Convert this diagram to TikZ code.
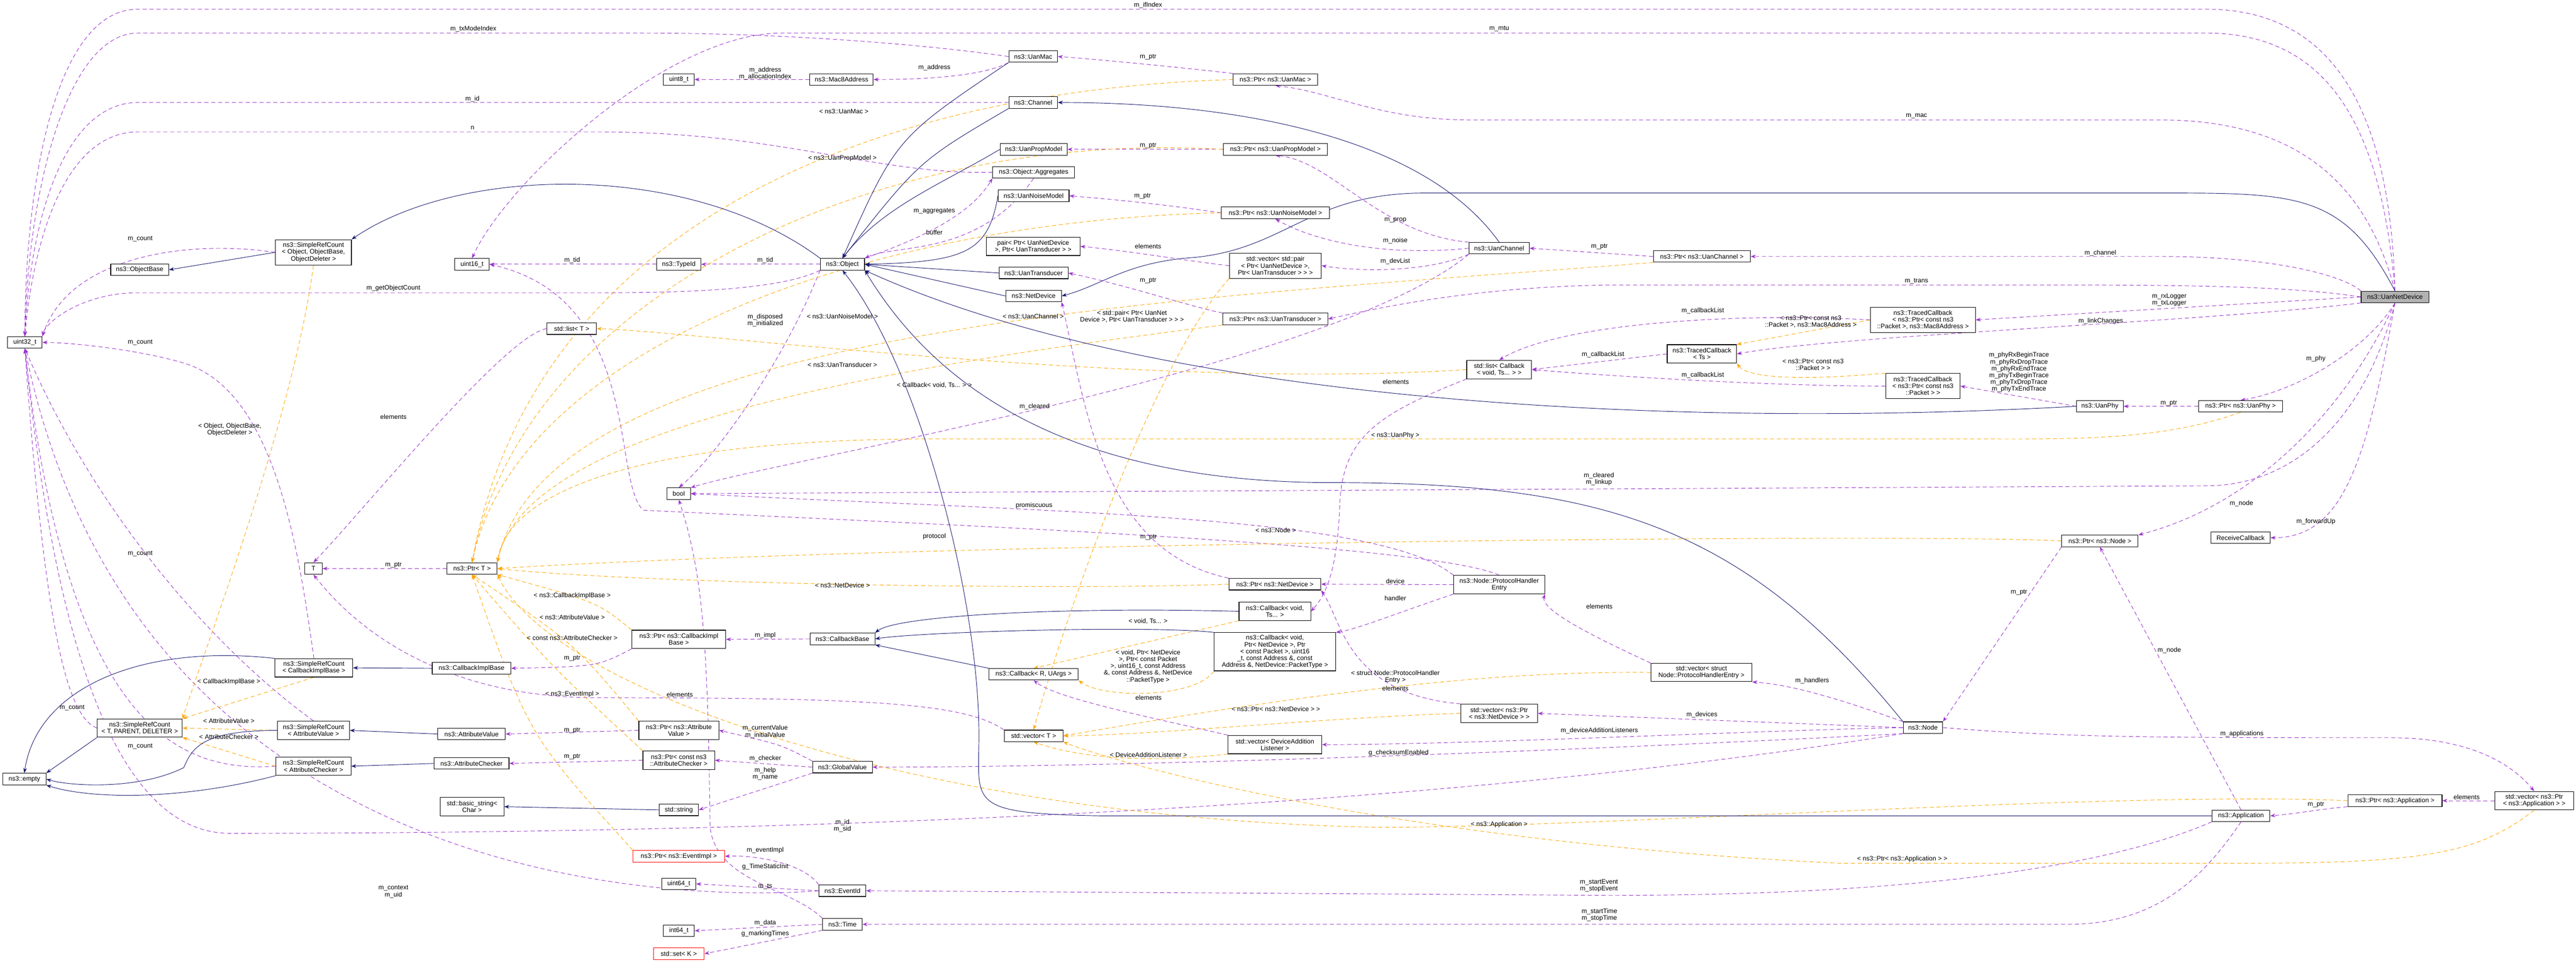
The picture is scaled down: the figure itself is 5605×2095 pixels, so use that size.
\documentclass[tikz,border=0pt]{standalone}
\usepackage{fontspec}
\setmainfont{Liberation Sans}
\usetikzlibrary{arrows.meta}
\definecolor{pu}{HTML}{9A32CD}
\definecolor{og}{HTML}{FFA500}
\definecolor{nv}{HTML}{191970}
\pgfdeclarelayer{edges}
\pgfsetlayers{edges,main}
\tikzset{
 box/.style={draw=black,line width=0.35pt,fill=white,inner sep=0.5pt,minimum height=0.25cm,align=center,font=\fontsize{4}{4.2}\selectfont},
 lbl/.style={inner sep=0pt,align=center,font=\fontsize{4}{4.2}\selectfont},
 use/.style={pu,dash pattern=on 0.09cm off 0.06cm,line width=0.3pt,-{Stealth[length=0.11cm,width=0.08cm]}},
 tmpl/.style={og,dash pattern=on 0.09cm off 0.06cm,line width=0.3pt,-{Stealth[length=0.11cm,width=0.08cm]}},
 inh/.style={nv,line width=0.3pt,-{Stealth[length=0.11cm,width=0.08cm]}}
}
\newcommand\nd[6][]{\node[box,minimum width=#5*0.01cm,#1] (#2) at (#3,#4) {#6};}
\newcommand\lb[4]{\node[lbl] (#1) at (#2,#3) {#4};}
\begin{document}
\begin{tikzpicture}[x=0.01cm,y=-0.01cm]
\useasboundingbox (0,0) rectangle (5605,2095);
% nodes
\nd{u32}{54}{745}{75}{uint32\_t}
\nd{obase}{304}{587}{126}{ns3::ObjectBase}
\nd[minimum height=0.55cm]{srco}{682}{549}{165}{ns3::SimpleRefCount\\< Object, ObjectBase,\\ObjectDeleter >}
\nd{u16}{1027}{575}{75}{uint16\_t}
\nd{listT}{1244}{715}{108}{std::list< T >}
\nd{uanmac}{2248}{123}{106}{ns3::UanMac}
\nd{u8}{1477}{173}{67}{uint8\_t}
\nd{mac8}{1831}{173}{138}{ns3::Mac8Address}
\nd{chan}{2248}{223}{106}{ns3::Channel}
\nd{prop}{2249}{325}{146}{ns3::UanPropModel}
\nd{aggr}{2249}{375}{178}{ns3::Object::Aggregates}
\nd{noise}{2249}{426}{154}{ns3::UanNoiseModel}
\nd[minimum height=0.4cm]{pair}{2248}{536}{204}{pair< Ptr< UanNetDevice\\ >, Ptr< UanTransducer > >}
\nd{trans}{2249}{594}{150}{ns3::UanTransducer}
\nd{netdev}{2249}{644}{121}{ns3::NetDevice}
\nd{obj}{1833}{575}{96}{ns3::Object}
\nd{typeid}{1477}{575}{96}{ns3::TypeId}
\nd{pmac}{2775}{173}{183}{ns3::Ptr< ns3::UanMac >}
\nd{pprop}{2775}{325}{227}{ns3::Ptr< ns3::UanPropModel >}
\nd{pnoise}{2775}{463}{235}{ns3::Ptr< ns3::UanNoiseModel >}
\nd[minimum height=0.55cm]{vpair}{2775}{578}{200}{std::vector< std::pair\\< Ptr< UanNetDevice >,\\ Ptr< UanTransducer > > >}
\nd{ptrans}{2775}{694}{228}{ns3::Ptr< ns3::UanTransducer >}
\nd{uchan}{3262}{540}{131}{ns3::UanChannel}
\nd{pchan}{3703}{558}{211}{ns3::Ptr< ns3::UanChannel >}
\nd[minimum height=0.4cm]{tcts}{3703}{770}{151}{ns3::TracedCallback\\< Ts >}
\nd[minimum height=0.4cm]{lcb}{3262}{804}{141}{std::list< Callback\\< void, Ts... > >}
\nd[minimum height=0.55cm]{tcmac}{4184}{696}{228}{ns3::TracedCallback\\< ns3::Ptr< const ns3\\::Packet >, ns3::Mac8Address >}
\nd[minimum height=0.55cm]{tcpkt}{4184}{840}{162}{ns3::TracedCallback\\< ns3::Ptr< const ns3\\::Packet > >}
\nd[fill=black!30]{und}{5211}{646}{147}{ns3::UanNetDevice}
\nd{uphy}{4569}{884}{102}{ns3::UanPhy}
\nd{pphy}{4875}{884}{183}{ns3::Ptr< ns3::UanPhy >}
\nd{T}{682}{1237}{38}{T}
\nd{ptrT}{1027}{1237}{109}{ns3::Ptr< T >}
\nd[minimum height=0.4cm]{srccb}{683}{1453}{169}{ns3::SimpleRefCount\\< CallbackImplBase >}
\nd{cbimpl}{1026}{1454}{171}{ns3::CallbackImplBase}
\nd[minimum height=0.4cm]{srctpd}{304}{1584}{185}{ns3::SimpleRefCount\\< T, PARENT, DELETER >}
\nd[minimum height=0.4cm]{srcav}{682}{1589}{157}{ns3::SimpleRefCount\\< AttributeValue >}
\nd{av}{1026}{1597}{147}{ns3::AttributeValue}
\nd[minimum height=0.4cm]{srcac}{682}{1667}{163}{ns3::SimpleRefCount\\< AttributeChecker >}
\nd{ac}{1026}{1661}{163}{ns3::AttributeChecker}
\nd{empty}{53}{1695}{94}{ns3::empty}
\nd[minimum height=0.4cm]{bstr}{1027}{1755}{139}{std::basic\_string<\\ Char >}
\nd{bool}{1477}{1074}{51}{bool}
\nd[minimum height=0.4cm]{pcbimpl}{1477}{1391}{204}{ns3::Ptr< ns3::CallbackImpl\\Base >}
\nd{cbbase}{1833}{1390}{141}{ns3::CallbackBase}
\nd[minimum height=0.4cm]{cbvoid}{2774}{1330}{156}{ns3::Callback< void,\\ Ts... >}
\nd[minimum height=0.83cm]{cbnd}{2774}{1418}{264}{ns3::Callback< void,\\ Ptr< NetDevice >, Ptr\\< const Packet >, uint16\\\_t, const Address \&, const\\ Address \&, NetDevice::PacketType >}
\nd{cbr}{2249}{1467}{194}{ns3::Callback< R, UArgs >}
\nd{pnd}{2774}{1271}{200}{ns3::Ptr< ns3::NetDevice >}
\nd{vecT}{2249}{1601}{128}{std::vector< T >}
\nd[minimum height=0.4cm]{vdal}{2774}{1620}{204}{std::vector< DeviceAddition\\Listener >}
\nd{gv}{1833}{1669}{130}{ns3::GlobalValue}
\nd[minimum height=0.4cm]{pav}{1477}{1589}{174}{ns3::Ptr< ns3::Attribute\\Value >}
\nd[minimum height=0.4cm]{pac}{1477}{1654}{156}{ns3::Ptr< const ns3\\::AttributeChecker >}
\nd{str}{1477}{1762}{86}{std::string}
\nd[draw=red]{pev}{1477}{1863}{199}{ns3::Ptr< ns3::EventImpl >}
\nd{u64}{1477}{1923}{74}{uint64\_t}
\nd{evid}{1833}{1938}{102}{ns3::EventId}
\nd{i64}{1477}{2025}{68}{int64\_t}
\nd{time}{1833}{2011}{86}{ns3::Time}
\nd[draw=red]{setK}{1477}{2075}{110}{std::set< K >}
\nd[minimum height=0.4cm]{phe}{3262}{1272}{198}{ns3::Node::ProtocolHandler\\Entry}
\nd[minimum height=0.4cm]{vphe}{3702}{1463}{220}{std::vector< struct\\ Node::ProtocolHandlerEntry >}
\nd[minimum height=0.4cm]{vpnd}{3262}{1552}{167}{std::vector< ns3::Ptr\\< ns3::NetDevice > >}
\nd{node}{4184}{1583}{86}{ns3::Node}
\nd{pnode}{4569}{1177}{166}{ns3::Ptr< ns3::Node >}
\nd{rcb}{4875}{1170}{129}{ReceiveCallback}
\nd{app}{4876}{1775}{126}{ns3::Application}
\nd{papp}{5211}{1742}{205}{ns3::Ptr< ns3::Application >}
\nd[minimum height=0.4cm]{vpapp}{5514}{1742}{172}{std::vector< ns3::Ptr\\< ns3::Application > >}
\begin{pgfonlayer}{edges}
% purple usage edges
\draw[use] (und.north) .. controls (5200,200) and (5050,20) .. (4800,20) -- (300,20) .. controls (120,20) and (55,400) .. (u32.north);
\draw[use] (und.north) .. controls (5180,250) and (5050,72) .. (4800,72) -- (1700,72) .. controls (1450,72) and (1100,400) .. (u16.north);
\draw[use] (uanmac.west) .. controls (2000,95) and (1700,72) .. (1400,72) -- (300,72) .. controls (150,72) and (62,400) .. (u32.north);
\draw[use] (chan.west) -- (300,223) .. controls (150,223) and (68,450) .. (u32.north);
\draw[use] (aggr.west) .. controls (1900,380) and (1700,287) .. (1300,287) -- (300,287) .. controls (150,287) and (75,500) .. (u32.north);
\draw[use] (obj.south west) .. controls (1700,630) and (1500,637) .. (1300,637) -- (300,637) .. controls (180,637) and (100,700) .. (u32.north east);
\draw[use] (srco.west) .. controls (400,520) and (150,560) .. (u32.north east);
\draw[use] (obj.west) -- (typeid.east);
\draw[use] (typeid.west) -- (u16.east);
\draw[use] (phe.north) .. controls (3100,1180) and (2000,1140) .. (1400,1110) .. controls (1330,1050) and (1400,650) .. (u16.east);
\draw[use] (srccb.north) .. controls (650,1200) and (600,850) .. (400,790) .. controls (300,760) and (150,745) .. (u32.east);
\draw[use] (srcav.north) .. controls (450,1400) and (200,1100) .. (u32.south);
\draw[use] (srctpd.west) .. controls (150,1560) and (100,1400) .. (u32.south);
\draw[use] (srcac.west) .. controls (400,1680) and (150,1600) .. (u32.south);
\draw[use] (evid.west) .. controls (1500,1960) and (300,1950) .. (u32.south);
\draw[use] (node.south west) .. controls (3000,1780) and (1500,1813) .. (500,1813) .. controls (200,1813) and (100,1200) .. (u32.south);
\draw[use] (mac8.west) -- (u8.east);
\draw[use] (uanmac.south west) .. controls (2150,160) and (2050,173) .. (mac8.east);
\draw[use] (pmac.north west) .. controls (2600,150) and (2400,130) .. (uanmac.east);
\draw[use] (und.north) .. controls (5150,400) and (5000,261) .. (4700,261) -- (3200,261) .. controls (3000,261) and (2900,200) .. (pmac.south);
\draw[use] (pprop.west) -- (prop.east);
\draw[use] (pnoise.west) .. controls (2600,455) and (2500,440) .. (noise.east);
\draw[use] (vpair.west) .. controls (2600,570) and (2450,545) .. (pair.east);
\draw[use] (ptrans.north west) .. controls (2600,670) and (2450,620) .. (trans.east);
\draw[use] (obj.north east) .. controls (2000,520) and (2110,470) .. (aggr.south west);
\draw[use] (aggr.south) .. controls (2130,560) and (1950,530) .. (obj.north east);
\draw[use] (uchan.north west) .. controls (3000,510) and (2900,350) .. (pprop.south);
\draw[use] (uchan.west) .. controls (3000,560) and (2850,520) .. (pnoise.south);
\draw[use] (uchan.south west) .. controls (3100,595) and (2950,590) .. (vpair.east);
\draw[use] (pchan.west) -- (uchan.east);
\draw[use] (und.north west) .. controls (5100,600) and (4950,558) .. (4700,558) -- (pchan.east);
\draw[use] (und.west) .. controls (5000,625) and (4800,620) .. (4500,620) -- (3500,620) .. controls (3200,625) and (3000,670) .. (ptrans.east);
\draw[use] (und.west) -- (tcmac.east);
\draw[use] (und.south west) .. controls (4800,700) and (4000,730) .. (tcts.east);
\draw[use] (tcmac.west) .. controls (3800,680) and (3400,700) .. (lcb.north);
\draw[use] (tcts.west) -- (lcb.east);
\draw[use] (tcpkt.west) .. controls (3800,840) and (3400,810) .. (lcb.east);
\draw[use] (uphy.west) -- (tcpkt.east);
\draw[use] (pphy.west) -- (uphy.east);
\draw[use] (und.south) .. controls (5150,760) and (5000,850) .. (pphy.north);
\draw[use] (und.south) .. controls (5150,900) and (5000,1057) .. (4800,1057) -- (bool.east);
\draw[use] (lcb.south west) .. controls (3000,900) and (2920,950) .. (2915,1100) .. controls (2910,1250) and (2880,1300) .. (cbvoid.east);
\draw[use] (listT.west) .. controls (1100,730) and (800,1100) .. (T.north);
\draw[use] (ptrT.west) -- (T.east);
\draw[use] (obj.south west) .. controls (1700,800) and (1550,1000) .. (bool.north);
\draw[use] (uchan.south west) .. controls (2900,800) and (1700,1000) .. (bool.north east);
\draw[use] (phe.north west) .. controls (3000,1120) and (2300,1115) .. (bool.east);
\draw[use] (pnode.south west) -- (node.north east);
\draw[use] (und.south) .. controls (5100,900) and (4900,1100) .. (pnode.north east);
\draw[use] (app.north) -- (pnode.south);
\draw[use] (und.south) .. controls (5150,1000) and (5100,1170) .. (rcb.east);
\draw[use] (pnd.north west) .. controls (2400,1200) and (2365,900) .. (netdev.south east);
\draw[use] (phe.west) -- (pnd.east);
\draw[use] (phe.south west) .. controls (3050,1330) and (2950,1370) .. (cbnd.north east);
\draw[use] (vphe.north west) .. controls (3500,1400) and (3350,1330) .. (phe.south east);
\draw[use] (node.north west) .. controls (4000,1520) and (3900,1490) .. (vphe.south east);
\draw[use] (vpnd.north west) .. controls (2930,1510) and (2920,1350) .. (pnd.south east);
\draw[use] (node.west) -- (vpnd.east);
\draw[use] (node.west) .. controls (3800,1590) and (3200,1620) .. (vdal.east);
\draw[use] (node.south west) .. controls (3500,1630) and (2500,1669) .. (gv.east);
\draw[use] (vdal.north west) .. controls (2500,1560) and (2300,1520) .. (cbr.south);
\draw[use] (vpapp.west) -- (papp.east);
\draw[use] (papp.south west) .. controls (5050,1760) and (5000,1770) .. (app.east);
\draw[use] (node.east) .. controls (4500,1605) and (4700,1605) .. (5200,1605) .. controls (5400,1605) and (5480,1680) .. (vpapp.north);
\draw[use] (app.south west) .. controls (4600,1880) and (4200,1948) .. (3500,1948) -- (evid.east);
\draw[use] (app.south) .. controls (4800,1900) and (4700,2011) .. (4500,2011) -- (time.east);
\draw[use] (cbbase.west) -- (pcbimpl.east);
\draw[use] (pcbimpl.south west) .. controls (1300,1450) .. (cbimpl.east);
\draw[use] (pav.west) -- (av.east);
\draw[use] (pac.west) -- (ac.east);
\draw[use] (gv.north west) .. controls (1700,1620) .. (pav.east);
\draw[use] (gv.west) -- (pac.east);
\draw[use] (gv.south west) -- (str.east);
\draw[use] (evid.north west) .. controls (1750,1880) and (1650,1860) .. (pev.east);
\draw[use] (time.north west) .. controls (1720,1930) and (1560,1920) .. (1545,1800) .. controls (1540,1400) and (1530,1250) .. (bool.south);
\draw[use] (evid.west) -- (u64.east);
\draw[use] (time.west) -- (i64.east);
\draw[use] (time.south west) -- (setK.east);
\draw[use] (vecT.north west) .. controls (2100,1530) and (1900,1518) .. (1300,1518) .. controls (1000,1518) and (800,1400) .. (T.south);
% template instances
\draw[tmpl] (srco.south) .. controls (640,900) and (450,1400) .. (srctpd.north east);
\draw[tmpl] (srccb.south) -- (srctpd.north east);
\draw[tmpl] (srcav.west) -- (srctpd.east);
\draw[tmpl] (srcac.west) -- (srctpd.south east);
\draw[tmpl] (pmac.west) .. controls (1800,200) and (1150,550) .. (ptrT.north);
\draw[tmpl] (pprop.west) .. controls (1900,280) and (1140,650) .. (ptrT.north);
\draw[tmpl] (pnoise.west) .. controls (1900,480) and (1130,750) .. (ptrT.north);
\draw[tmpl] (pchan.south west) .. controls (2600,650) and (1200,700) .. (ptrT.north east);
\draw[tmpl] (ptrans.south west) .. controls (2100,780) and (1150,900) .. (ptrT.north east);
\draw[tmpl] (lcb.west) .. controls (2500,850) and (1500,720) .. (listT.east);
\draw[tmpl] (pphy.south) .. controls (4700,960) and (4500,955) .. (4300,955) -- (2000,955) .. controls (1300,960) and (1100,1100) .. (ptrT.north east);
\draw[tmpl] (pnode.west) .. controls (4200,1160) and (2000,1180) .. (ptrT.east);
\draw[tmpl] (pnd.west) .. controls (2300,1285) and (1400,1270) .. (ptrT.east);
\draw[tmpl] (pcbimpl.north west) .. controls (1300,1310) .. (ptrT.south east);
\draw[tmpl] (pav.north west) .. controls (1250,1400) .. (ptrT.south);
\draw[tmpl] (pac.north west) .. controls (1200,1450) .. (ptrT.south);
\draw[tmpl] (pev.north west) .. controls (1150,1600) .. (ptrT.south);
\draw[tmpl] (papp.west) .. controls (4600,1720) and (3500,1800) .. (3000,1800) .. controls (2000,1780) and (1200,1500) .. (ptrT.south east);
\draw[tmpl] (vpapp.south) .. controls (5400,1850) and (5300,1878) .. (4900,1878) -- (4000,1878) .. controls (3000,1830) and (2400,1650) .. (vecT.south east);
\draw[tmpl] (vpair.south west) .. controls (2500,800) and (2300,1400) .. (vecT.north);
\draw[tmpl] (cbvoid.south west) -- (cbr.north);
\draw[tmpl] (cbnd.south west) .. controls (2600,1520) and (2400,1520) .. (cbr.south east);
\draw[tmpl] (vphe.west) .. controls (3300,1460) and (2950,1490) .. (vecT.east);
\draw[tmpl] (vpnd.west) .. controls (2900,1560) and (2500,1600) .. (vecT.east);
\draw[tmpl] (vdal.south west) .. controls (2500,1660) and (2350,1650) .. (vecT.south);
\draw[tmpl] (tcmac.west) -- (tcts.north east);
\draw[tmpl] (tcpkt.north west) .. controls (3900,830) and (3800,820) .. (tcts.south east);
% inheritance
\draw[inh] (srco.west) -- (obase.east);
\draw[inh] (obj.north west) .. controls (1500,350) and (1000,360) .. (srco.north east);
\draw[inh] (uanmac.south west) .. controls (1950,300) .. (obj.north);
\draw[inh] (chan.south west) .. controls (2000,350) .. (obj.north);
\draw[inh] (prop.west) .. controls (2050,400) and (1920,450) .. (obj.north);
\draw[inh] (noise.west) .. controls (2150,550) and (2100,570) .. (obj.east);
\draw[inh] (trans.west) -- (obj.east);
\draw[inh] (netdev.west) -- (obj.east);
\draw[inh] (uchan.north) .. controls (3100,300) and (2700,223) .. (chan.east);
\draw[inh] (und.north) .. controls (5100,420) and (5000,420) .. (4700,420) -- (3100,420) .. controls (2850,420) and (2800,540) .. (2600,560) .. controls (2450,570) and (2400,620) .. (netdev.east);
\draw[inh] (uphy.west) .. controls (3600,935) and (2500,870) .. (obj.south east);
\draw[inh] (node.north west) .. controls (3800,1150) and (3500,1050) .. (2900,1050) .. controls (2500,1050) and (2100,950) .. (obj.south east);
\draw[inh] (app.west) -- (2400,1775) .. controls (2100,1770) and (2130,1750) .. (2130,1600) .. controls (2130,1300) and (2000,800) .. (obj.south);
\draw[inh] (srctpd.south west) -- (empty.north east);
\draw[inh] (srccb.north west) .. controls (300,1400) and (80,1500) .. (empty.north);
\draw[inh] (srcav.west) .. controls (450,1590) and (420,1620) .. (400,1670) .. controls (300,1720) and (150,1710) .. (empty.east);
\draw[inh] (srcac.south west) .. controls (400,1740) and (200,1740) .. (empty.south east);
\draw[inh] (cbimpl.west) -- (srccb.east);
\draw[inh] (av.west) -- (srcav.east);
\draw[inh] (ac.west) -- (srcac.east);
\draw[inh] (str.west) -- (bstr.east);
\draw[inh] (cbr.north west) -- (cbbase.south east);
\draw[inh] (cbvoid.west) .. controls (2300,1320) and (1950,1340) .. (cbbase.north east);
\draw[inh] (cbnd.north west) .. controls (2500,1360) and (2000,1375) .. (cbbase.east);
\end{pgfonlayer}
% labels
\lb{a1}{2498}{11}{m\_ifIndex}
\lb{a2}{1030}{63}{m\_txModeIndex}
\lb{a3}{3262}{63}{m\_mtu}
\lb{a4}{1028}{215}{m\_id}
\lb{a5}{1028}{278}{n}
\lb{a6}{305}{520}{m\_count}
\lb{a7}{856}{627}{m\_getObjectCount}
\lb{a8}{1245}{566}{m\_tid}
\lb{a9}{1665}{566}{m\_tid}
\lb{a10}{157}{1540}{m\_count}
\lb{a11}{305}{745}{m\_count}
\lb{a12}{305}{1205}{m\_count}
\lb{a13}{305}{1624}{m\_count}
\lb{a14}{856}{1940}{m\_context\\m\_uid}
\lb{a15}{1833}{1797}{m\_id\\m\_sid}
\lb{a16}{1665}{160}{m\_address\\m\_allocationIndex}
\lb{a17}{2033}{147}{m\_address}
\lb{a18}{2498}{124}{m\_ptr}
\lb{a19}{4170}{253}{m\_mac}
\lb{a20}{2498}{317}{m\_ptr}
\lb{a21}{2486}{427}{m\_ptr}
\lb{a22}{2498}{536}{elements}
\lb{a23}{2498}{611}{m\_ptr}
\lb{a24}{2033}{459}{m\_aggregates}
\lb{a25}{2033}{506}{buffer}
\lb{a26}{3036}{479}{m\_prop}
\lb{a27}{3036}{524}{m\_noise}
\lb{a28}{3036}{569}{m\_devList}
\lb{a29}{3480}{537}{m\_ptr}
\lb{a30}{4570}{551}{m\_channel}
\lb{a31}{4170}{612}{m\_trans}
\lb{a32}{4720}{652}{m\_rxLogger\\m\_txLogger}
\lb{a33}{4571}{699}{m\_linkChanges}
\lb{a34}{3705}{676}{m\_callbackList}
\lb{a35}{3488}{772}{m\_callbackList}
\lb{a36}{3705}{816}{m\_callbackList}
\lb{a37}{3940}{700}{< ns3::Ptr< const ns3\\::Packet >, ns3::Mac8Address >}
\lb{a38}{3945}{793}{< ns3::Ptr< const ns3\\::Packet > >}
\lb{a39}{4393}{810}{m\_phyRxBeginTrace\\m\_phyRxDropTrace\\m\_phyRxEndTrace\\m\_phyTxBeginTrace\\m\_phyTxDropTrace\\m\_phyTxEndTrace}
\lb{a40}{4719}{877}{m\_ptr}
\lb{a41}{5039}{780}{m\_phy}
\lb{a42}{3036}{947}{< ns3::UanPhy >}
\lb{a43}{3479}{1042}{m\_cleared\\m\_linkup}
\lb{a44}{3037}{831}{elements}
\lb{a45}{2033}{838}{< Callback< void, Ts... > >}
\lb{a46}{856}{907}{elements}
\lb{a47}{856}{1229}{m\_ptr}
\lb{a48}{1836}{242}{< ns3::UanMac >}
\lb{a49}{1833}{344}{< ns3::UanPropModel >}
\lb{a50}{1833}{688}{< ns3::UanNoiseModel >}
\lb{a51}{2248}{688}{< ns3::UanChannel >}
\lb{a52}{1833}{794}{< ns3::UanTransducer >}
\lb{a53}{2776}{1154}{< ns3::Node >}
\lb{a54}{1833}{1273}{< ns3::NetDevice >}
\lb{a55}{1245}{1296}{< ns3::CallbackImplBase >}
\lb{a56}{1245}{1343}{< ns3::AttributeValue >}
\lb{a57}{1245}{1388}{< const ns3::AttributeChecker >}
\lb{a58}{1245}{1510}{< ns3::EventImpl >}
\lb{a59}{2463}{689}{< std::pair< Ptr< UanNet\\Device >, Ptr< UanTransducer > > >}
\lb{a60}{1665}{697}{m\_disposed\\m\_initialized}
\lb{a61}{2251}{885}{m\_cleared}
\lb{a62}{2250}{1100}{promiscuous}
\lb{a63}{2033}{1167}{protocol}
\lb{a64}{4393}{1289}{m\_ptr}
\lb{a65}{4877}{1096}{m\_node}
\lb{a66}{4720}{1415}{m\_node}
\lb{a67}{5039}{1135}{m\_forwardUp}
\lb{a68}{2499}{1169}{m\_ptr}
\lb{a69}{3036}{1264}{device}
\lb{a70}{3036}{1302}{handler}
\lb{a71}{3480}{1319}{elements}
\lb{a72}{3943}{1481}{m\_handlers}
\lb{a73}{3036}{1498}{elements}
\lb{a74}{3703}{1555}{m\_devices}
\lb{a75}{3480}{1590}{m\_deviceAdditionListeners}
\lb{a76}{3043}{1638}{g\_checksumEnabled}
\lb{a77}{2499}{1518}{elements}
\lb{a78}{2498}{1352}{< void, Ts... >}
\lb{a79}{2498}{1450}{< void, Ptr< NetDevice\\>, Ptr< const Packet\\>, uint16\_t, const Address\\\&, const Address \&, NetDevice\\::PacketType >}
\lb{a80}{3036}{1473}{< struct Node::ProtocolHandler\\Entry >}
\lb{a81}{2776}{1542}{< ns3::Ptr< ns3::NetDevice > >}
\lb{a82}{2499}{1642}{< DeviceAdditionListener >}
\lb{a83}{4139}{1869}{< ns3::Ptr< ns3::Application > >}
\lb{a84}{5367}{1734}{elements}
\lb{a85}{5039}{1751}{m\_ptr}
\lb{a86}{4878}{1597}{m\_applications}
\lb{a87}{3262}{1794}{< ns3::Application >}
\lb{a88}{3479}{1927}{m\_startEvent\\m\_stopEvent}
\lb{a89}{3480}{1991}{m\_startTime\\m\_stopTime}
\lb{a90}{1665}{1383}{m\_impl}
\lb{a91}{1245}{1432}{m\_ptr}
\lb{a92}{1245}{1589}{m\_ptr}
\lb{a93}{1245}{1647}{m\_ptr}
\lb{a94}{1665}{1592}{m\_currentValue\\m\_initialValue}
\lb{a95}{1665}{1650}{m\_checker}
\lb{a96}{1665}{1683}{m\_help\\m\_name}
\lb{a97}{1665}{1850}{m\_eventImpl}
\lb{a98}{1665}{1886}{g\_TimeStaticInit}
\lb{a99}{1665}{1929}{m\_ts}
\lb{a100}{1665}{2008}{m\_data}
\lb{a101}{1665}{2032}{g\_markingTimes}
\lb{a102}{1479}{1511}{elements}
\lb{a103}{500}{935}{< Object, ObjectBase,\\ObjectDeleter >}
\lb{a104}{498}{1483}{< CallbackImplBase >}
\lb{a105}{498}{1568}{< AttributeValue >}
\lb{a106}{498}{1603}{< AttributeChecker >}
\end{tikzpicture}
\end{document}
